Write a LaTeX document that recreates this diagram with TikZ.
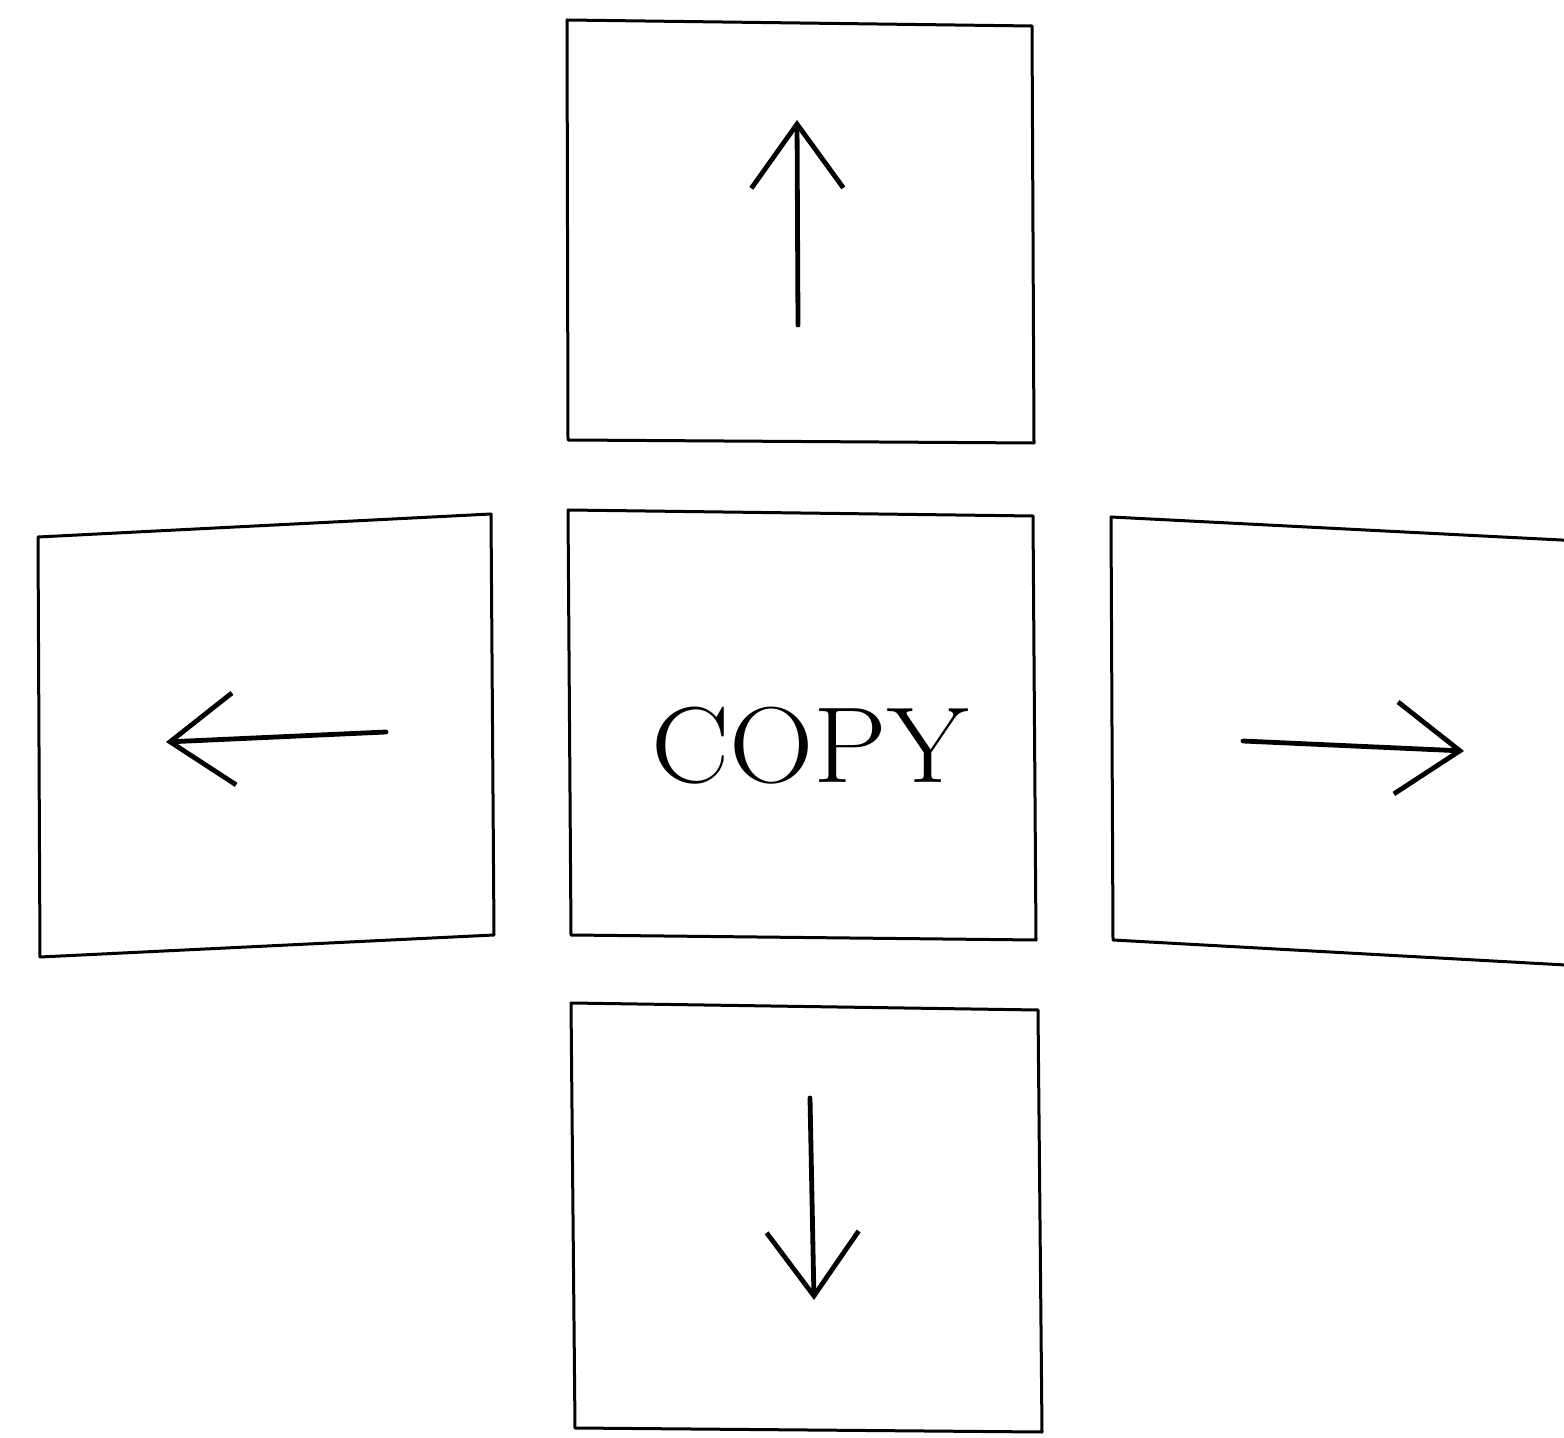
\documentclass[tikz,border=0pt]{standalone}
\usepackage{graphicx}
\usetikzlibrary{arrows.meta}
\begin{document}
\begin{tikzpicture}[x=0.5pt,y=-0.5pt,
  panel/.style={draw=black,line width=1.5pt,line join=round},
  dirarrow/.style={draw=black,line width=2.4pt,line cap=round,
    -{Straight Barb[length=32pt,width=46pt,line width=2.4pt]}},
  label/.style={font=\fontsize{54}{60}\selectfont,anchor=base,inner sep=0pt}]
\useasboundingbox (0,0) rectangle (1564,1438);
\clip (0,0) rectangle (1564,1438);
% top panel
\coordinate (t1) at (567,20);  \coordinate (t2) at (1032,26);
\coordinate (t3) at (1034,443);\coordinate (t4) at (568,440);
\draw[panel] (t1) -- (t2) -- (t3) -- (t4) -- cycle;
% centre panel
\coordinate (c1) at (568,510); \coordinate (c2) at (1033,516);
\coordinate (c3) at (1036,940);\coordinate (c4) at (571,935);
\draw[panel] (c1) -- (c2) -- (c3) -- (c4) -- cycle;
% bottom panel
\coordinate (b1) at (571,1003);\coordinate (b2) at (1038,1010);
\coordinate (b3) at (1042,1432);\coordinate (b4) at (575,1428);
\draw[panel] (b1) -- (b2) -- (b3) -- (b4) -- cycle;
% left panel
\coordinate (l1) at (38,537);  \coordinate (l2) at (491,514);
\coordinate (l3) at (494,935); \coordinate (l4) at (40,957);
\draw[panel] (l1) -- (l2) -- (l3) -- (l4) -- cycle;
% right panel (runs off the right edge)
\coordinate (r1) at (1111,517);\coordinate (r2) at (1620,543);
\coordinate (r3) at (1620,968);\coordinate (r4) at (1113,940);
\draw[panel] (r2) -- (r1) -- (r4) -- (r3);
% label
\node[label] (copy) at (810,782) {\scalebox{1.085}[1]{COPY}};
% arrows
\coordinate (ua) at (798,325); \coordinate (ub) at (797,120);
\draw[dirarrow] (ua) -- (ub);
\coordinate (la) at (386,732); \coordinate (lb) at (166,742);
\draw[dirarrow] (la) -- (lb);
\coordinate (ra) at (1243,741);\coordinate (rb) at (1464,751);
\draw[dirarrow] (ra) -- (rb);
\coordinate (da) at (810,1098);\coordinate (db) at (814,1300);
\draw[dirarrow] (da) -- (db);
\end{tikzpicture}
\end{document}
